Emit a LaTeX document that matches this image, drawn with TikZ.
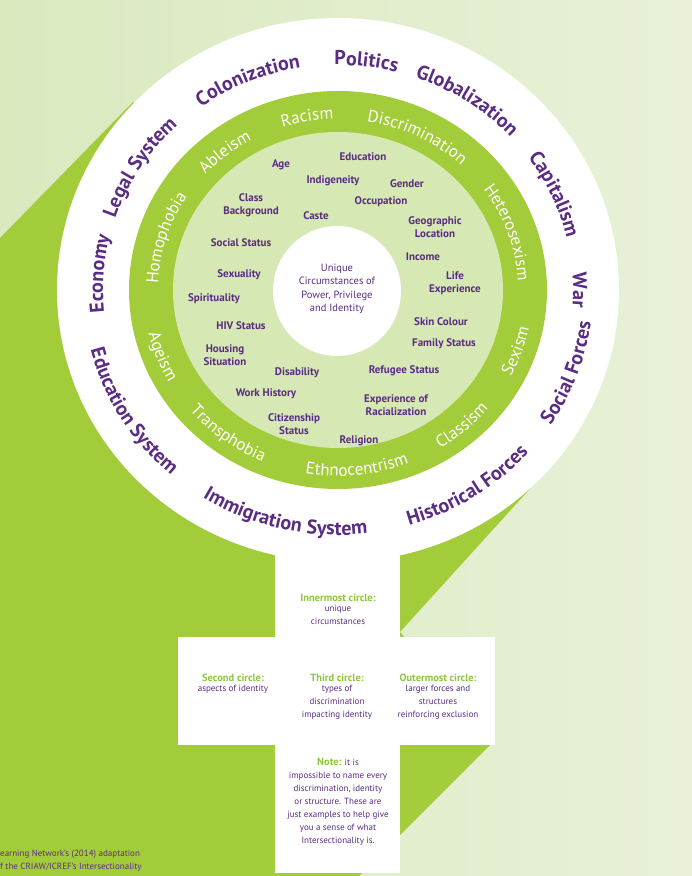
\documentclass[tikz,border=0pt]{standalone}
\usepackage{fontspec}
\setmainfont{PT Sans}
\usetikzlibrary{decorations.text}
\definecolor{purp}{HTML}{5A2D82}
\definecolor{gdark}{HTML}{A3CC3B}
\definecolor{glight}{HTML}{D6E8B3}
\definecolor{bgA}{HTML}{DAE9BE}
\definecolor{bgB}{HTML}{E8F1D8}
\definecolor{gtext}{HTML}{8DC63F}
\newcommand\outf{\bfseries\fontsize{20}{22}\selectfont\color{purp}}
\newcommand\ringf{\fontsize{17}{19}\selectfont\color{white}}
\newcommand\cwtext[5]{\path[decorate,decoration={text along path,text align=center,text={|#4|#5}}] (C) ++({#3+60}:#1pt and #2pt) arc[start angle={#3+60},end angle={#3-60},x radius=#1pt,y radius=#2pt];}
\newcommand\ccwtext[5]{\path[decorate,decoration={text along path,text align=center,text={|#4|#5}}] (C) ++({#3-60}:#1pt and #2pt) arc[start angle={#3-60},end angle={#3+60},x radius=#1pt,y radius=#2pt];}
\begin{document}
\begin{tikzpicture}[x=1pt,y=1pt,
  item/.style={font=\bfseries\fontsize{11}{12.5}\selectfont, text=purp, align=center, inner sep=0pt},
  head/.style={font=\bfseries\fontsize{10.5}{12}\selectfont, text=gtext, align=center, inner sep=0pt},
  leg/.style={font=\fontsize{9}{13}\selectfont, text=purp, align=center, inner sep=0pt}]
\useasboundingbox (0,0) rectangle (692,876);
\shade[left color=bgA,right color=bgB] (0,0) rectangle (692,876);
\coordinate (C) at (338,586);
\fill[gdark] (0,638) -- (133,774) -- (338,586) -- (538,396) -- (400,244) -- (495,136) -- (359,0) -- (0,0) -- cycle;
% cross
\fill[white] (275,3) rectangle (400,340);
\fill[white] (178,131) rectangle (495,239);
% circles
\fill[white] (C) ellipse[x radius=281pt,y radius=272pt];
\fill[gdark] (C) ellipse[x radius=209pt,y radius=199pt];
\fill[glight] (C) ellipse[x radius=165pt,y radius=158pt];
\fill[white] (337,585) ellipse[x radius=64pt,y radius=65pt];
% outer labels
\cwtext{235}{225}{83}{\outf}{Politics}
\cwtext{235}{225}{113}{\outf}{Colonization}
\cwtext{235}{225}{56}{\outf}{Globalization}
\cwtext{235}{225}{148}{\outf}{Legal System}
\cwtext{235}{225}{24}{\outf}{Capitalism}
\cwtext{235}{225}{176}{\outf}{Economy}
\cwtext{235}{225}{0}{\outf}{War}
\ccwtext{255}{245}{-20}{\outf}{Social Forces}
\ccwtext{255}{245}{-57}{\outf}{Historical Forces}
\ccwtext{255}{245}{-103}{\outf}{Immigration System}
\ccwtext{255}{245}{-149}{\outf}{Education System}
% ring labels
\cwtext{180}{171}{100}{\ringf}{Racism}
\cwtext{180}{171}{63}{\ringf}{Discrimination}
\cwtext{180}{171}{129}{\ringf}{Ableism}
\cwtext{180}{171}{163}{\ringf}{Homophobia}
\cwtext{180}{171}{19}{\ringf}{Heterosexism}
\ccwtext{195}{186}{-19}{\ringf}{Sexism}
\ccwtext{195}{186}{-48}{\ringf}{Classism}
\ccwtext{195}{186}{-84}{\ringf}{Ethnocentrism}
\ccwtext{195}{186}{-127}{\ringf}{Transphobia}
\ccwtext{195}{186}{-159}{\ringf}{Ageism}
% inner items
\node[item] (age) at (281,711) {Age};
\node[item] (edu) at (363,719) {Education};
\node[item] (ind) at (333,695) {Indigeneity};
\node[item] (gen) at (407,692) {Gender};
\node[item] (cls) at (251,671) {Class\\Background};
\node[item] (cas) at (316,660) {Caste};
\node[item] (occ) at (381,674) {Occupation};
\node[item] (geo) at (435,649) {Geographic\\Location};
\node[item] (soc) at (241,633) {Social Status};
\node[item] (inc) at (423,619) {Income};
\node[item] (sex) at (239,601) {Sexuality};
\node[item] (life) at (455,593) {Life\\Experience};
\node[item] (spi) at (214,577) {Spirituality};
\node[item] (skin) at (441,554) {Skin Colour};
\node[item] (hiv) at (241,550) {HIV Status};
\node[item] (fam) at (444,532) {Family Status};
\node[item] (hou) at (225,521) {Housing\\Situation};
\node[item] (dis) at (297,503) {Disability};
\node[item] (ref) at (404,505) {Refugee Status};
\node[item] (work) at (266,482) {Work History};
\node[item] (exp) at (396,471) {Experience of\\Racialization};
\node[item] (cit) at (294,452) {Citizenship\\Status};
\node[item] (rel) at (359,435) {Religion};
\node[font=\fontsize{10.5}{13.5}\selectfont, text=purp, align=center] (core) at (337,587) {Unique\\Circumstances of\\Power, Privilege\\and Identity};
% legend
\node[head] (h1) at (338,278) {Innermost circle:};
\node[leg,anchor=north] (t1) at (338,271) {unique\\circumstances};
\node[head] (h2) at (233,198) {Second circle:};
\node[leg,anchor=north] (t2) at (233,191) {aspects of identity};
\node[head] (h3) at (337,198) {Third circle:};
\node[leg,anchor=north] (t3) at (337,191) {types of\\discrimination\\impacting identity};
\node[head] (h4) at (438,198) {Outermost circle:};
\node[leg,anchor=north] (t4) at (438,191) {larger forces and\\structures\\reinforcing exclusion};
\node[leg,anchor=north] (note) at (338,118) {\textcolor{gtext}{\bfseries\fontsize{10.5}{12}\selectfont Note:} it is\\impossible to name every\\discrimination, identity\\or structure. These are\\just examples to help give\\you a sense of what\\Intersectionality is.};
\node[leg,anchor=west,align=left] (src) at (0,15) {earning Network’s (2014) adaptation\\f the CRIAW/ICREF’s Intersectionality};
\end{tikzpicture}
\end{document}
